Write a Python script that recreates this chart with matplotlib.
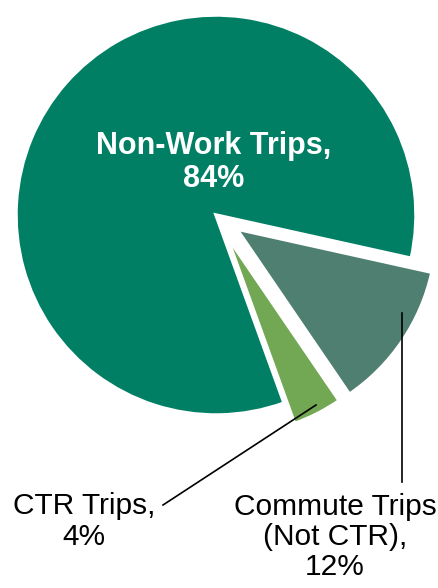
import matplotlib.pyplot as plt

plt.rcParams['font.family'] = ['Liberation Sans', 'DejaVu Sans']

# trip shares (%)
labels = ['Non-Work Trips,\n84%', 'CTR Trips,\n4%', 'Commute Trips\n(Not CTR),\n12%']
shares = [84, 4, 12]
colors = ['#007f65', '#72a853', '#4f7f70']
explode = [0, 0.115, 0.125]


def main():
    fig = plt.figure(figsize=(4.38, 5.88), dpi=100)
    ax = fig.add_axes([0, 0, 1, 1])
    ax.pie(shares, colors=colors, explode=explode, startangle=-12.5,
           counterclock=True, radius=1.0,
           wedgeprops=dict(edgecolor='white', linewidth=2.5))
    ax.set_xlim(-1.08, 1.11)
    ax.set_ylim(-1.865, 1.075)
    ax.axis('off')

    # labels
    ax.text(-0.01, 0.2625, labels[0], color='white', fontsize=22, fontweight='bold',
            ha='center', va='center', linespacing=1.1)
    ax.text(-0.66, -1.5325, labels[1], color='black', fontsize=21.5,
            ha='center', va='center', linespacing=1.1)
    ax.text(0.595, -1.61, labels[2], color='black', fontsize=21.5,
            ha='center', va='center', linespacing=1.1)

    # leader lines
    ax.plot([-0.265, 0.5], [-1.45, -0.95], color='black', lw=1.2)
    ax.plot([0.93, 0.93], [-0.49, -1.335], color='black', lw=1.2)

    fig.savefig('out.png', dpi=100)


if __name__ == '__main__':
    main()
